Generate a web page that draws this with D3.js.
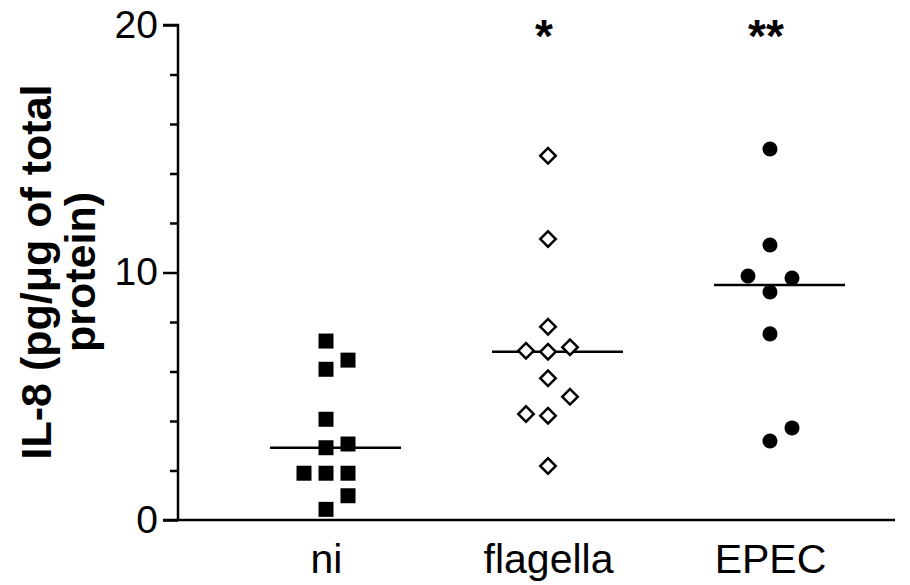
<!DOCTYPE html>
<html>
<head>
<meta charset="utf-8">
<script src="https://cdn.jsdelivr.net/npm/d3@7"></script>
<style>
  body { margin: 0; background: #fff; }
  svg { font-family: Arial, "Liberation Sans", sans-serif; }
</style>
</head>
<body>
<div id="chart"></div>
<script>
const svgWidth = 910;
const svgHeight = 585;

// groups on the x axis
const categories = ["ni", "flagella", "EPEC"];
const stars = ["", "*", "**"];

// IL-8 values per group, and the column slot (-1, 0, 1) used to spread close points
const niValues = [7.23, 6.46, 6.09, 4.07, 3.07, 2.92, 1.89, 1.89, 1.89, 0.98, 0.43];
const niSlots = [0, 1, 0, 0, 1, 0, -1, 0, 1, 1, 0];
const flagellaValues = [14.72, 11.35, 7.81, 6.98, 6.84, 6.80, 5.73, 4.98, 4.28, 4.21, 2.18];
const flagellaSlots = [0, 0, 0, 1, -1, 0, 0, 1, -1, 0, 0];
const epecValues = [14.99, 11.11, 9.86, 9.78, 9.21, 7.52, 3.72, 3.19];
const epecSlots = [0, 0, -1, 1, 0, 0, 1, 0];

const medians = [2.92, 6.80, 9.50];

const majorTicks = [0, 10, 20];
const minorTicks = [2, 4, 6, 8, 12, 14, 16, 18];

const groups = [
    { name: "ni", values: niValues, slots: niSlots, shape: "square" },
    { name: "flagella", values: flagellaValues, slots: flagellaSlots, shape: "diamond" },
    { name: "EPEC", values: epecValues, slots: epecSlots, shape: "circle" }
];

const axisX = 178;
const slotWidth = 22;

let svg = d3.select("#chart")
    .append("svg")
    .attr("width", svgWidth)
    .attr("height", svgHeight);

let yScale = d3.scaleLinear()
    .domain([0, 20])
    .range([520, 25]);

let xScale = d3.scalePoint()
    .domain(categories)
    .range([326, 770]);

// y axis: major ticks with labels, minor ticks without
let yAxis = svg.append("g")
    .attr("transform", `translate(${axisX}, 0)`)
    .call(d3.axisLeft(yScale).tickValues(majorTicks).tickSize(15).tickPadding(5).tickFormat(d3.format("d")));

yAxis.select(".domain").attr("stroke-width", 2.5).attr("d", `M-15,${yScale(20)}H0V${yScale(0)}`);
yAxis.selectAll(".tick line").attr("stroke-width", 2.5);
yAxis.selectAll(".tick text")
    .attr("font-size", "39px")
    .attr("fill", "#000");

let yMinor = svg.append("g")
    .attr("transform", `translate(${axisX}, 0)`)
    .call(d3.axisLeft(yScale).tickValues(minorTicks).tickSize(8).tickFormat(""));
yMinor.select(".domain").remove();
yMinor.selectAll(".tick line").attr("stroke-width", 2.5);

// x axis line
svg.append("line")
    .attr("x1", axisX - 15)
    .attr("x2", 895)
    .attr("y1", yScale(0))
    .attr("y2", yScale(0))
    .attr("stroke", "#000")
    .attr("stroke-width", 2.5);

let xAxis = svg.append("g")
    .attr("transform", `translate(0, ${yScale(0)})`)
    .call(d3.axisBottom(xScale).tickSize(0));
xAxis.select(".domain").remove();
xAxis.selectAll(".tick text")
    .attr("y", 53)
    .attr("dy", 0)
    .attr("font-size", "41px")
    .attr("fill", "#000");

// median lines
svg.selectAll(".median")
    .data(categories)
    .enter()
    .append("line")
    .attr("class", "median")
    .attr("x1", d => xScale(d) - 56)
    .attr("x2", d => xScale(d) + 75)
    .attr("y1", (d, i) => yScale(medians[i]))
    .attr("y2", (d, i) => yScale(medians[i]))
    .attr("stroke", "#000")
    .attr("stroke-width", 2.5);

// points
const symbolFor = {
    square: d3.symbol().type(d3.symbolSquare).size(225),
    diamond: d3.symbol().type(d3.symbolSquare).size(120),
    circle: d3.symbol().type(d3.symbolCircle).size(177)
};

groups.forEach(function(g) {
    let points = g.values.map((v, i) => ({ value: v, slot: g.slots[i] }));
    svg.append("g")
        .selectAll("path")
        .data(points)
        .enter()
        .append("path")
        .attr("d", symbolFor[g.shape])
        .attr("transform", d => {
            let t = `translate(${xScale(g.name) + d.slot * slotWidth}, ${yScale(d.value)})`;
            return g.shape === "diamond" ? t + " rotate(45)" : t;
        })
        .attr("fill", g.shape === "diamond" ? "#fff" : "#000")
        .attr("stroke", g.shape === "diamond" ? "#000" : "none")
        .attr("stroke-width", 2.5);
});

// significance marks
svg.selectAll(".star")
    .data(categories)
    .enter()
    .append("text")
    .attr("class", "star")
    .attr("x", d => xScale(d) - 4)
    .attr("y", 52)
    .attr("text-anchor", "middle")
    .attr("font-size", "46px")
    .attr("font-weight", "bold")
    .text((d, i) => stars[i]);

// y axis title
let yTitle = svg.append("text")
    .attr("transform", "rotate(-90)")
    .attr("text-anchor", "middle")
    .attr("font-size", "43px")
    .attr("font-weight", "bold");

yTitle.append("tspan")
    .attr("x", -272)
    .attr("y", 51)
    .text("IL-8 (pg/μg of total");

yTitle.append("tspan")
    .attr("x", -272)
    .attr("y", 95)
    .text("protein)");
</script>
</body>
</html>
